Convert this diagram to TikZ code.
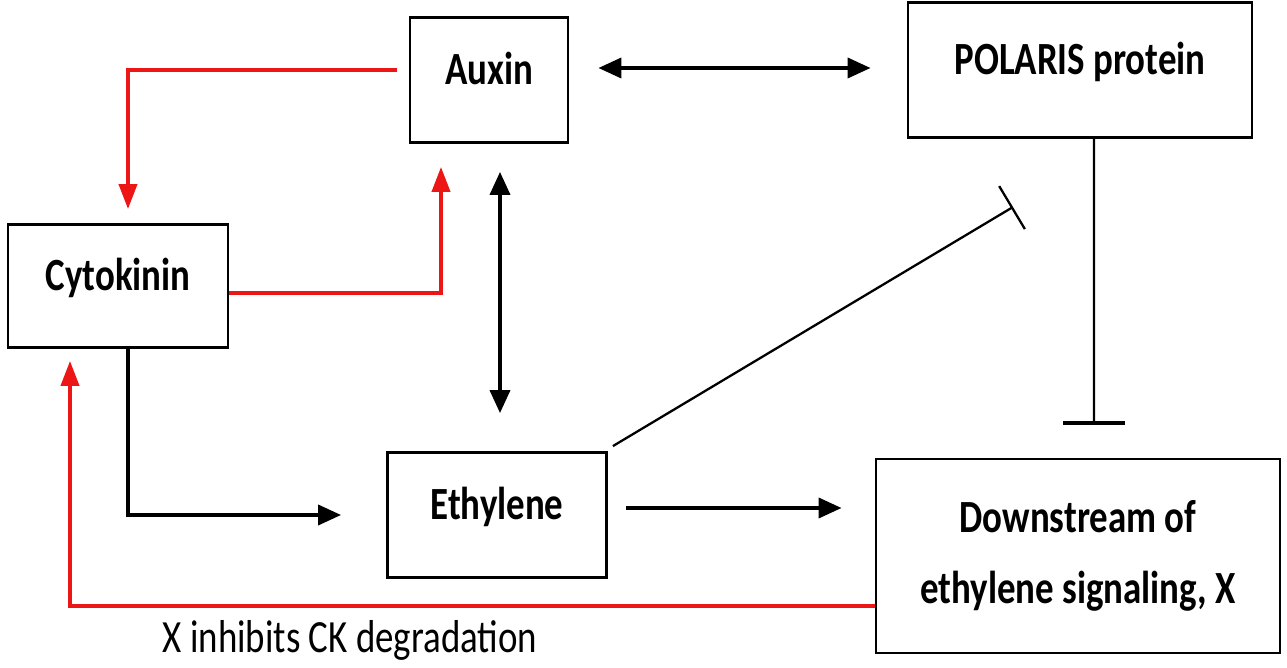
\documentclass[tikz,border=0pt]{standalone}
\usepackage{fontspec}
\setmainfont{Carlito}
\usetikzlibrary{calc,arrows.meta,positioning}
\definecolor{sigred}{RGB}{236,22,22}
\newcommand{\tallt}[1]{\scalebox{1}[1.25]{#1}}

\begin{document}
\begin{tikzpicture}[x=0.2mm,y=-0.2mm,
    hbox/.style={draw,line width=1.6pt,inner sep=0pt,font=\fontsize{21}{40}\selectfont\bfseries},
    onel/.style={text height=6mm,text depth=4mm},
    act/.style={line width=2.1pt,-{Triangle[length=4.6mm,width=4mm]}},
    actboth/.style={line width=2.1pt,{Triangle[length=4.6mm,width=4mm]}-{Triangle[length=4.6mm,width=4mm]}},
    redact/.style={sigred,line width=2.2pt,-{Triangle[length=5mm,width=3.6mm]}},
    inhib/.style={line width=1.3pt,-{Bar[width=10mm]}},
    inhibthick/.style={line width=1.3pt,-{Bar[width=12.4mm,line width=2.4pt]}}]
    \useasboundingbox (0,0) rectangle (1287,668);
    \node[hbox,onel,minimum width=31.6mm,minimum height=25mm] (auxin) at (489,80) {\tallt{Auxin}};
    \node[hbox,onel,minimum width=68.8mm,minimum height=27mm] (polaris) at (1080,70) {\tallt{POLARIS protein}};
    \node[hbox,onel,minimum width=44mm,minimum height=24.6mm] (cytokinin) at (118,286) {\tallt{Cytokinin}};
    \node[hbox,onel,minimum width=43.8mm,minimum height=25mm] (ethylene) at (497,515) {\tallt{Ethylene}};
    \node[hbox,align=center,minimum width=80.8mm,minimum height=38.8mm] (downstream) at (1078,556)
       {\tallt{Downstream of}\\\tallt{ethylene signaling, X}};
    \node[font=\fontsize{21}{25}\selectfont] (caption) at (350,640) {\tallt{X inhibits CK degradation}};
    \coordinate (polblock) at (1013,207);
    \coordinate (dsblock) at (1094,425);
    \draw[actboth,shorten <=5.8mm,shorten >=7.2mm] ([yshift=2.4mm]auxin.east) -- ([yshift=2.4mm]auxin.east -| polaris.west);
    \draw[actboth,shorten <=5.6mm,shorten >=7.6mm] ([xshift=2.2mm]auxin.south) -- ([xshift=2.2mm]auxin.south |- ethylene.north);
    \draw[redact,shorten <=2.4mm,shorten >=2.8mm] ([yshift=2mm]auxin.west) -| ([xshift=2mm]cytokinin.north);
    \draw[redact,shorten >=4.6mm] ([yshift=-1.4mm]cytokinin.east) -| ([xshift=-9.6mm]auxin.south);
    \draw[act,shorten >=9mm] ([xshift=2mm]cytokinin.south) |- (ethylene.west);
    \draw[act,shorten <=3.6mm,shorten >=6.6mm] ([yshift=1.4mm]ethylene.east) -- ([yshift=1.4mm]ethylene.east -| downstream.west);
    \draw[inhib] ([shift={(1mm,1mm)}]ethylene.north east) -- (polblock);
    \draw[inhibthick] ([xshift=2.8mm]polaris.south) -- (dsblock);
    \draw[redact,shorten >=2.4mm] ([yshift=-10mm]downstream.west) -| ([xshift=-9.6mm]cytokinin.south);
\end{tikzpicture}
\end{document}
